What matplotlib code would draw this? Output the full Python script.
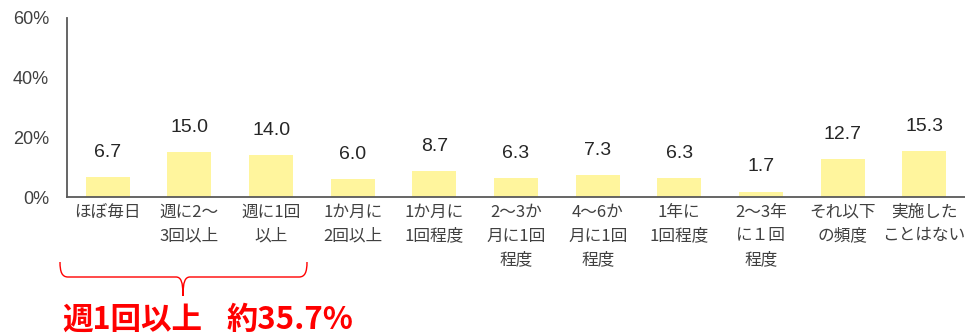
import matplotlib
matplotlib.use("Agg")
import matplotlib.pyplot as plt
from matplotlib.path import Path
from matplotlib.patches import PathPatch

plt.rcParams['font.family'] = ['Noto Sans CJK JP', 'DejaVu Sans']

categories = ["ほぼ毎日", "週に2～\n3回以上", "週に1回\n以上", "1か月に\n2回以上", "1か月に\n1回程度",
              "2～3か\n月に1回\n程度", "4～6か\n月に1回\n程度", "1年に\n1回程度", "2～3年\nに１回\n程度",
              "それ以下\nの頻度", "実施した\nことはない"]
values = [6.7, 15.0, 14.0, 6.0, 8.7, 6.3, 7.3, 6.3, 1.7, 12.7, 15.3]
yticks = [0, 20, 40, 60]
ytick_labels = ["0%", "20%", "40%", "60%"]
summary_left = "週1回以上"
summary_right = "約35.7%"

W, H = 965, 335
fig = plt.figure(figsize=(W/100, H/100), dpi=100)
ax = fig.add_axes([67/W, 1-197/H, 1-67/W, (197-18)/H])

x = list(range(len(values)))
ax.bar(x, values, width=0.54, color='#FFF59D', zorder=2)
for xi, v in zip(x, values):
    ax.annotate(f"{v:.1f}", (xi, v), xytext=(0, 18), textcoords='offset points',
                ha='center', va='center', fontsize=14, color='#262626', family='Liberation Sans')

ax.set_xlim(-0.5, len(values)-0.5)
ax.set_ylim(0, 60)
ax.set_yticks(yticks)
ax.set_yticklabels(ytick_labels, fontsize=13, color='#404040', family='Liberation Sans')
ax.set_xticks(x)
ax.set_xticklabels(categories, fontsize=12, color='#404040', linespacing=1.5, va='top')
ax.tick_params(axis='both', length=0)
ax.tick_params(axis='y', pad=13)
ax.tick_params(axis='x', pad=5)
for s in ['top', 'right']:
    ax.spines[s].set_visible(False)
for s in ['left', 'bottom']:
    ax.spines[s].set_color('#595959')
    ax.spines[s].set_linewidth(1.3)

# bracket in figure pixel coordinates
def P(px, py):
    return (px/W, 1-py/H)
verts = [P(60, 262), P(60, 272), P(62, 277), P(68, 277),
         P(176, 277),
         P(181, 277), P(183, 282), P(183, 296),
         P(183, 282), P(185, 277), P(190, 277),
         P(299, 277),
         P(305, 277), P(307, 272), P(307, 262)]
codes = [Path.MOVETO, Path.CURVE4, Path.CURVE4, Path.CURVE4,
         Path.LINETO,
         Path.CURVE4, Path.CURVE4, Path.CURVE4,
         Path.CURVE4, Path.CURVE4, Path.CURVE4,
         Path.LINETO,
         Path.CURVE4, Path.CURVE4, Path.CURVE4]
fig.patches.append(PathPatch(Path(verts, codes), transform=fig.transFigure,
                             fill=False, edgecolor='#FF0000', linewidth=1.0))

fig.text(62/W, 1-320/H, summary_left, color='#FF0000', fontsize=22, fontweight='bold',
         ha='left', va='center')
fig.text(227/W, 1-320/H, summary_right, color='#FF0000', fontsize=22.5, fontweight='bold',
         ha='left', va='center')

fig.savefig('out.png', dpi=100)
